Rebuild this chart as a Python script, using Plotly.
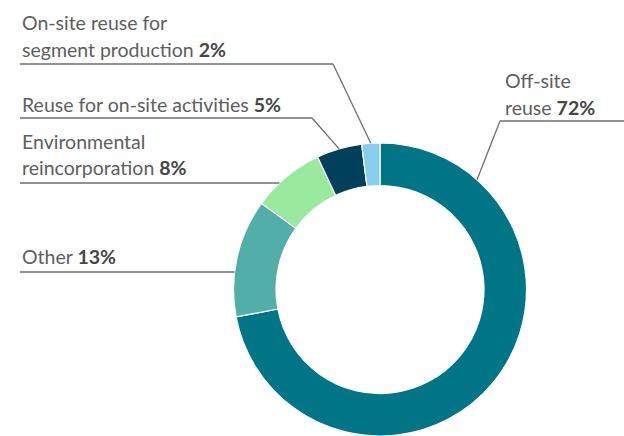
import math
import plotly.graph_objects as go

# Water reuse destinations, share of total (%)
categories = [
    "Off-site reuse",
    "Other",
    "Environmental reincorporation",
    "Reuse for on-site activities",
    "On-site reuse for segment production",
]
shares = [72, 13, 8, 5, 2]
colors = ["#007585", "#52AEA9", "#9AE99F", "#00405B", "#87CEEB"]

# Wrapped label text for each category (display lines)
label_lines = [
    ["Off-site", "reuse"],
    ["Other"],
    ["Environmental", "reincorporation"],
    ["Reuse for on-site activities"],
    ["On-site reuse for", "segment production"],
]

W, H = 624, 436
cx, cy, R = 380.0, 289.5, 146.5  # ring centre and outer radius, px
HOLE = 0.71

FONT = "Lato"
FS = 19.5
TXT = "#5e5e5e"
BOLD = "#464646"
LINE = "#6e6e6e"


def px(x):
    return x / W


def py(y):
    return 1 - y / H


fig = go.Figure(
    go.Pie(
        labels=categories,
        values=shares,
        sort=False,
        direction="clockwise",
        rotation=0,
        hole=HOLE,
        marker=dict(colors=colors, line=dict(color="white", width=1.2)),
        textinfo="none",
        hoverinfo="label+percent",
        showlegend=False,
        domain=dict(x=[px(cx - R), px(cx + R)], y=[py(cy + R), py(cy - R)]),
    )
)

total = sum(shares)
starts = [sum(shares[:i]) / total for i in range(len(shares))]


def ring_point(frac):
    """Point on the outer edge at a fraction of the full turn (clockwise from top)."""
    a = 2 * math.pi * frac
    return cx + R * math.sin(a), cy - R * math.cos(a)


def ring_x_at(y, side):
    return cx + side * math.sqrt(R * R - (cy - y) ** 2)


# label placement: text x, baselines, underline y, underline end / elbow, anchor mode
layout_spec = [
    dict(x=503, base=[87, 114], uy=121, x0=500, x1=W, anchor=("slice", 0.16)),
    dict(x=20, base=[263], uy=272, x0=20, x1=None, anchor=("edge", -1)),
    dict(x=20, base=[148, 174], uy=183, x0=20, x1=None, anchor=("edge", -1)),
    dict(x=20, base=[111], uy=118, x0=20, x1=312, anchor=("slice", 0.5)),
    dict(x=20, base=[30, 57], uy=64, x0=20, x1=333, anchor=("slice", 0.5)),
]

shapes = []
annotations = []
for i, spec in enumerate(layout_spec):
    lines = label_lines[i]
    for j, (ln, b) in enumerate(zip(lines, spec["base"])):
        text = f"<span style='color:{TXT}'>{ln}</span>"
        if j == len(lines) - 1:
            text += f" <b style='color:{BOLD}'>{shares[i]}%</b>"
        annotations.append(
            dict(
                x=px(spec["x"]), y=py(b - 7), xref="paper", yref="paper",
                xanchor="left", yanchor="middle", showarrow=False,
                text=text, font=dict(family=FONT, size=FS, color=TXT),
            )
        )

    kind, val = spec["anchor"]
    uy = spec["uy"]
    if kind == "edge":
        ex = ring_x_at(uy, val)
        shapes.append(dict(type="line", xref="paper", yref="paper",
                           x0=px(spec["x0"]), y0=py(uy), x1=px(ex), y1=py(uy),
                           line=dict(color=LINE, width=1.3)))
    else:
        frac = starts[i] + val * shares[i] / total
        ax, ay = ring_point(frac)
        elbow = spec["x0"] if i == 0 else spec["x1"]
        far = spec["x1"] if i == 0 else spec["x0"]
        shapes.append(dict(type="line", xref="paper", yref="paper",
                           x0=px(far), y0=py(uy), x1=px(elbow), y1=py(uy),
                           line=dict(color=LINE, width=1.3)))
        shapes.append(dict(type="line", xref="paper", yref="paper",
                           x0=px(elbow), y0=py(uy), x1=px(ax), y1=py(ay),
                           line=dict(color=LINE, width=1.3)))

fig.update_layout(
    width=W, height=H,
    margin=dict(l=0, r=0, t=0, b=0),
    paper_bgcolor="white", plot_bgcolor="white",
    shapes=shapes, annotations=annotations,
    font=dict(family=FONT),
)

fig.write_html("out.html")
